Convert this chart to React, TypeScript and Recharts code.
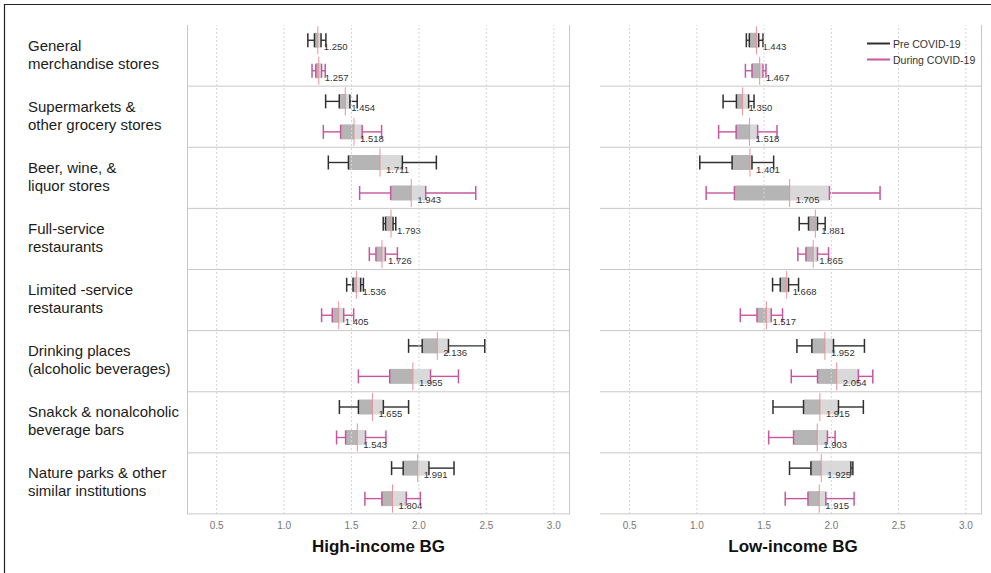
import React from 'react';
import { ComposedChart, Bar, XAxis, YAxis, ReferenceLine } from 'recharts';

const categoryLines: string[][] = [
  ['General', 'merchandise stores'],
  ['Supermarkets &', 'other grocery stores'],
  ['Beer, wine, &', 'liquor stores'],
  ['Full-service', 'restaurants'],
  ['Limited -service', 'restaurants'],
  ['Drinking places', '(alcoholic beverages)'],
  ['Snakck & nonalcoholic', 'beverage bars'],
  ['Nature parks & other', 'similar institutions'],
];
const xTicks = [0.5, 1.0, 1.5, 2.0, 2.5, 3.0];
const seriesNames = ['Pre COVID-19', 'During COVID-19'];
const panelTitles = ['High-income BG', 'Low-income BG'];

// High-income BG
const highPreMin = [1.176, 1.308, 1.328, 1.735, 1.464, 1.923, 1.41, 1.797];
const highPreQ1 = [1.225, 1.409, 1.477, 1.752, 1.511, 2.024, 1.551, 1.883];
const highPreMedian = [1.25, 1.454, 1.711, 1.793, 1.536, 2.136, 1.655, 1.991];
const highPreQ3 = [1.274, 1.488, 1.877, 1.808, 1.568, 2.219, 1.736, 2.074];
const highPreMax = [1.31, 1.542, 2.129, 1.828, 1.588, 2.488, 1.923, 2.26];
const highPreLabel = ['1.250', '1.454', '1.711', '1.793', '1.536', '2.136', '1.655', '1.991'];

const highDuringMin = [1.207, 1.291, 1.56, 1.632, 1.278, 1.551, 1.389, 1.599];
const highDuringQ1 = [1.235, 1.419, 1.79, 1.681, 1.357, 1.783, 1.456, 1.725];
const highDuringMedian = [1.257, 1.518, 1.943, 1.726, 1.405, 1.955, 1.543, 1.804];
const highDuringQ3 = [1.278, 1.579, 2.05, 1.751, 1.442, 2.086, 1.604, 1.906];
const highDuringMax = [1.305, 1.723, 2.421, 1.84, 1.516, 2.293, 1.755, 2.01];
const highDuringLabel = ['1.257', '1.518', '1.943', '1.726', '1.405', '1.955', '1.543', '1.804'];

// Low-income BG
const lowPreMin = [1.368, 1.195, 1.022, 1.761, 1.563, 1.744, 1.566, 1.689];
const lowPreQ1 = [1.39, 1.294, 1.262, 1.83, 1.62, 1.855, 1.793, 1.848];
const lowPreMedian = [1.443, 1.34, 1.395, 1.881, 1.668, 1.952, 1.915, 1.925];
const lowPreQ3 = [1.46, 1.385, 1.41, 1.897, 1.682, 2.016, 2.053, 2.145];
const lowPreMax = [1.492, 1.425, 1.571, 1.954, 1.756, 2.246, 2.238, 2.16];
const lowPreLabel = ['1.443', '1.350', '1.401', '1.881', '1.668', '1.952', '1.915', '1.925'];

const lowDuringMin = [1.361, 1.162, 1.069, 1.751, 1.323, 1.702, 1.534, 1.657];
const lowDuringQ1 = [1.41, 1.292, 1.279, 1.811, 1.447, 1.897, 1.719, 1.826];
const lowDuringMedian = [1.467, 1.392, 1.69, 1.865, 1.517, 2.04, 1.895, 1.91];
const lowDuringQ3 = [1.492, 1.452, 1.986, 1.897, 1.553, 2.201, 1.971, 1.959];
const lowDuringMax = [1.514, 1.596, 2.362, 1.979, 1.637, 2.308, 2.028, 2.169];
const lowDuringLabel = ['1.467', '1.518', '1.705', '1.865', '1.517', '2.054', '1.903', '1.915'];

// ---------- layout / style ----------
const W = 991;
const H = 573;
const PLOT_TOP = 25;
const PLOT_BOTTOM = 514;
const X_DOMAIN: [number, number] = [0.28, 3.12];
const FONT = '"Liberation Sans", Arial, Helvetica, sans-serif';

const C = {
  pre: '#2f2f2f',
  during: '#c6579f',
  median: '#e8868f',
  dark: '#b5b5b5',
  light: '#d9d9d9',
  sep: '#c8c8c8',
  grid: '#dad4d6',
  label: '#333333',
};

type Box = { min: number; q1: number; med: number; q3: number; max: number; label: string };
type Row = { category: string; lines: string[]; lo: number; hi: number; pre: Box; during: Box };

function buildRows(
  pre: number[][],
  preLabels: string[],
  dur: number[][],
  durLabels: string[]
): Row[] {
  return categoryLines.map((lines, i) => {
    const p: Box = { min: pre[0][i], q1: pre[1][i], med: pre[2][i], q3: pre[3][i], max: pre[4][i], label: preLabels[i] };
    const d: Box = { min: dur[0][i], q1: dur[1][i], med: dur[2][i], q3: dur[3][i], max: dur[4][i], label: durLabels[i] };
    return {
      category: lines.join(' '),
      lines,
      lo: Math.min(p.min, d.min),
      hi: Math.max(p.max, d.max),
      pre: p,
      during: d,
    };
  });
}

const highRows = buildRows(
  [highPreMin, highPreQ1, highPreMedian, highPreQ3, highPreMax],
  highPreLabel,
  [highDuringMin, highDuringQ1, highDuringMedian, highDuringQ3, highDuringMax],
  highDuringLabel
);
const lowRows = buildRows(
  [lowPreMin, lowPreQ1, lowPreMedian, lowPreQ3, lowPreMax],
  lowPreLabel,
  [lowDuringMin, lowDuringQ1, lowDuringMedian, lowDuringQ3, lowDuringMax],
  lowDuringLabel
);

function drawBox(b: Box, cy: number, px: (v: number) => number, color: string, key: string) {
  const x0 = px(b.min);
  const x1 = px(b.q1);
  const xm = px(b.med);
  const x3 = px(b.q3);
  const x4 = px(b.max);
  const capH = 14;
  const boxH = 15;
  const tick = (x: number, k: string) => (
    <line key={k} x1={x} x2={x} y1={cy - capH / 2} y2={cy + capH / 2} stroke={color} strokeWidth={1.5} />
  );
  return (
    <g key={key}>
      <line x1={x0} x2={x1} y1={cy} y2={cy} stroke={color} strokeWidth={1.4} />
      <line x1={x3} x2={x4} y1={cy} y2={cy} stroke={color} strokeWidth={1.4} />
      <rect x={x1} y={cy - boxH / 2} width={Math.max(0, xm - x1)} height={boxH} fill={C.dark} />
      <rect x={xm} y={cy - boxH / 2} width={Math.max(0, x3 - xm)} height={boxH} fill={C.light} />
      {tick(x0, 'a')}
      {tick(x1, 'b')}
      {tick(x3, 'c')}
      {tick(x4, 'd')}
      <line x1={xm} x2={xm} y1={cy - 14} y2={cy + 14} stroke={C.median} strokeWidth={1} strokeOpacity={0.9} />
      <text x={xm + 6} y={cy + 10} fontSize={9.5} fill={C.label} fontFamily={FONT}>
        {b.label}
      </text>
    </g>
  );
}

const RowShape = (props: any) => {
  const { x, y, width, height, payload, index, sepX1, sepX2, last } = props;
  const row: Row = payload;
  const px = (v: number) => x + ((v - row.lo) / (row.hi - row.lo)) * width;
  const preCy = y + height * 0.25;
  const durCy = y + height * 0.75;
  return (
    <g>
      {index > 0 && <line x1={sepX1} x2={sepX2} y1={y} y2={y} stroke={C.sep} strokeWidth={1} />}
      {index === last && (
        <line x1={sepX1} x2={sepX2} y1={y + height} y2={y + height} stroke={C.sep} strokeWidth={1} />
      )}
      {drawBox(row.pre, preCy, px, C.pre, 'pre')}
      {drawBox(row.during, durCy, px, C.during, 'dur')}
    </g>
  );
};

const CategoryTick = (props: any) => {
  const { y, payload } = props;
  const row = highRows.find((r) => r.category === payload.value);
  if (!row) return null;
  return (
    <text x={28} y={y} fontSize={15} fill="#1c1c1c" fontFamily={FONT} textAnchor="start">
      <tspan x={28} y={y - 5}>
        {row.lines[0]}
      </tspan>
      <tspan x={28} y={y + 13}>
        {row.lines[1]}
      </tspan>
    </text>
  );
};

type PanelProps = {
  rows: Row[];
  left: number;
  width: number;
  yAxisWidth: number;
  marginLeft: number;
  marginRight: number;
  showLabels: boolean;
  sepExtendLeft: number;
};

function Panel(p: PanelProps) {
  const plotX1 = p.marginLeft + p.yAxisWidth;
  const plotX2 = p.width - p.marginRight;
  const xAxisHeight = 30;
  return (
    <div style={{ position: 'absolute', left: p.left, top: 0, width: p.width, height: H }}>
      <ComposedChart
        width={p.width}
        height={H}
        data={p.rows}
        layout="vertical"
        barCategoryGap={0}
        margin={{ top: PLOT_TOP, right: p.marginRight, bottom: H - PLOT_BOTTOM - xAxisHeight, left: p.marginLeft }}
      >
        <XAxis
          type="number"
          domain={X_DOMAIN}
          allowDataOverflow
          ticks={xTicks}
          tickFormatter={(v: number) => v.toFixed(1)}
          axisLine={false}
          tickLine={false}
          tickSize={6}
          tickMargin={2}
          height={xAxisHeight}
          tick={{ fontSize: 10, fill: '#777', fontFamily: FONT }}
          interval={0}
        />
        {p.showLabels ? (
          <YAxis
            type="category"
            dataKey="category"
            width={p.yAxisWidth}
            axisLine={false}
            tickLine={false}
            interval={0}
            tick={(tp: any) => <CategoryTick {...tp} />}
          />
        ) : (
          <YAxis type="category" dataKey="category" hide />
        )}
        {xTicks.map((t) => (
          <ReferenceLine key={t} x={t} stroke={C.grid} strokeDasharray="2 2" />
        ))}
        <Bar
          dataKey={(d: Row) => [d.lo, d.hi]}
          isAnimationActive={false}
          shape={(sp: any) => (
            <RowShape {...sp} sepX1={plotX1 - p.sepExtendLeft} sepX2={plotX2} last={p.rows.length - 1} />
          )}
        />
      </ComposedChart>
    </div>
  );
}

export default function App() {
  return (
    <div
      style={{
        position: 'absolute',
        left: 0,
        top: 0,
        width: W,
        height: H,
        background: '#fff',
        fontFamily: FONT,
        overflow: 'hidden',
      }}
    >
      <Panel
        rows={highRows}
        left={0}
        width={580}
        yAxisWidth={187}
        marginLeft={0}
        marginRight={10}
        showLabels={true}
        sepExtendLeft={165}
      />
      <Panel
        rows={lowRows}
        left={590}
        width={401}
        yAxisWidth={0}
        marginLeft={10}
        marginRight={9}
        showLabels={false}
        sepExtendLeft={0}
      />
      <svg width={W} height={H} style={{ position: 'absolute', left: 0, top: 0, pointerEvents: 'none' }}>
        <line x1={4.5} x2={4.5} y1={4} y2={H} stroke="#222" strokeWidth={1.2} />
        <line x1={4} x2={W} y1={4.5} y2={4.5} stroke="#222" strokeWidth={1.2} />
        <line x1={187.5} x2={187.5} y1={PLOT_TOP} y2={PLOT_BOTTOM} stroke={C.sep} strokeWidth={1} />
        <line x1={569.5} x2={569.5} y1={PLOT_TOP} y2={PLOT_BOTTOM} stroke={C.sep} strokeWidth={1} />
        <line x1={981.5} x2={981.5} y1={PLOT_TOP} y2={PLOT_BOTTOM} stroke={C.sep} strokeWidth={1} />
        <text x={378.5} y={552} textAnchor="middle" fontSize={17} fontWeight="bold" fill="#111" fontFamily={FONT}>
          {panelTitles[0]}
        </text>
        <text x={793} y={552} textAnchor="middle" fontSize={17} fontWeight="bold" fill="#111" fontFamily={FONT}>
          {panelTitles[1]}
        </text>
        <line x1={867} x2={890} y1={43.5} y2={43.5} stroke={C.pre} strokeWidth={2} />
        <text x={893} y={47.5} fontSize={10.5} fill="#333" fontFamily={FONT}>
          {seriesNames[0]}
        </text>
        <line x1={867} x2={890} y1={59.5} y2={59.5} stroke={C.during} strokeWidth={2} />
        <text x={893} y={63.5} fontSize={10.5} fill="#333" fontFamily={FONT}>
          {seriesNames[1]}
        </text>
      </svg>
    </div>
  );
}
